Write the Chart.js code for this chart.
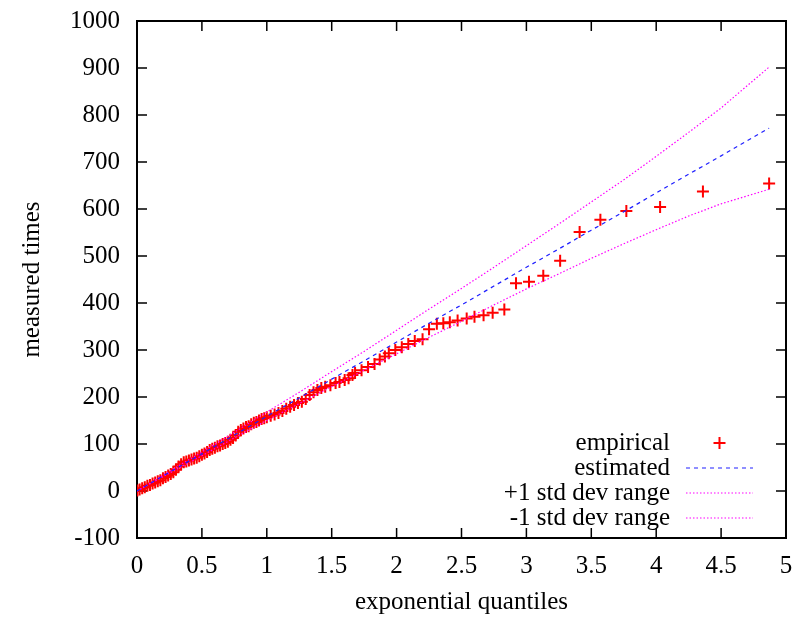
<!DOCTYPE html>
<html>
<head>
<meta charset="utf-8">
<script src="https://cdn.jsdelivr.net/npm/chart.js@4.4.0/dist/chart.umd.min.js"></script>
<style>
    html, body { margin: 0; padding: 0; background: #fff; }
    #wrap { width: 796px; height: 621px; }
</style>
</head>
<body>
<div id="wrap"><canvas id="qq_chart" width="796" height="621"></canvas></div>
<script>
// empirical points (exponential quantile, measured time)
const empiricalX = [
    0.003, 0.02, 0.04, 0.06, 0.08, 0.10, 0.12, 0.14, 0.16, 0.18,
    0.20, 0.22, 0.24, 0.26, 0.28, 0.30, 0.32, 0.34, 0.36, 0.38,
    0.40, 0.42, 0.44, 0.46, 0.48, 0.50, 0.52, 0.54, 0.56, 0.58,
    0.60, 0.62, 0.64, 0.66, 0.68, 0.70, 0.72, 0.74, 0.76, 0.78,
    0.80, 0.82, 0.84, 0.86, 0.88, 0.90, 0.92, 0.94, 0.96, 0.98,
    1.00, 1.03, 1.06, 1.09, 1.12, 1.15, 1.18, 1.21, 1.24, 1.27,
    1.30, 1.33, 1.36, 1.39, 1.42, 1.45, 1.49, 1.53, 1.56, 1.60,
    1.63, 1.66, 1.68, 1.73, 1.78, 1.83, 1.87, 1.91, 1.94, 1.99,
    2.04, 2.09, 2.14, 2.20, 2.25, 2.31, 2.36, 2.41, 2.47, 2.54,
    2.60, 2.67, 2.74, 2.83, 2.92, 3.02, 3.13, 3.26, 3.41, 3.57,
    3.77, 4.03, 4.36, 4.87
];
const empiricalY = [
    1, 3, 6, 8, 11, 13, 16, 18, 21, 23,
    27, 30, 33, 36, 40, 45, 52, 57, 61, 63,
    65, 67, 69, 71, 74, 77, 80, 83, 87, 90,
    92, 95, 97, 100, 102, 105, 109, 113, 118, 126,
    130, 133, 136, 138, 142, 145, 147, 150, 153, 155,
    157, 160, 163, 166, 170, 175, 179, 183, 187, 190,
    196, 204, 210, 215, 219, 222, 225, 230, 232, 236,
    240, 247, 251, 257, 264, 270, 280, 286, 293, 300,
    306, 313, 319, 323, 344, 356, 357, 359, 363, 367,
    371, 374, 379, 386, 442, 445, 458, 490, 551, 577,
    596, 604, 637, 654
];

// estimated line and the +-1 std dev range, sampled along the curves
const curveX = [0, 0.25, 0.5, 0.75, 1, 1.25, 1.5, 1.75, 2, 2.25, 2.5, 2.75, 3, 3.25, 3.5, 3.75, 4, 4.25, 4.5, 4.87];
const estimatedY = [0, 40, 79, 119, 159, 198, 238, 277, 317, 357, 396, 436, 476, 515, 555, 594, 634, 674, 713, 772];
const upperY = [0, 42, 83, 125, 168, 210, 254, 297, 342, 387, 431, 476, 522, 568, 615, 662, 712, 763, 815, 902];
const lowerY = [0, 38, 75, 113, 150, 186, 222, 257, 292, 327, 361, 396, 430, 462, 495, 526, 556, 585, 611, 642];

const seriesLabels = ["empirical", "estimated", "+1 std dev range", "-1 std dev range"];

toPoints = (xs, ys) => xs.map((x, i) => ({ x: x, y: ys[i] }));

const fontFamily = "'Liberation Serif', 'Times New Roman', serif";
Chart.defaults.font.family = fontFamily;
Chart.defaults.font.size = 25;
Chart.defaults.color = "#000";

// box with inward ticks on all four sides, like gnuplot
const framePlugin = {
    id: "frame",
    beforeDatasetsDraw(chart) {
        const { ctx, chartArea: a, scales } = chart;
        ctx.save();
        ctx.strokeStyle = "#000";
        ctx.lineWidth = 1.5;
        ctx.beginPath();
        scales.x.ticks.forEach(t => {
            const px = scales.x.getPixelForValue(t.value);
            ctx.moveTo(px, a.bottom);
            ctx.lineTo(px, a.bottom - 10);
            ctx.moveTo(px, a.top);
            ctx.lineTo(px, a.top + 10);
        });
        scales.y.ticks.forEach(t => {
            const py = scales.y.getPixelForValue(t.value);
            ctx.moveTo(a.left, py);
            ctx.lineTo(a.left + 10, py);
            ctx.moveTo(a.right, py);
            ctx.lineTo(a.right - 10, py);
        });
        ctx.stroke();
        ctx.lineWidth = 2;
        ctx.strokeRect(a.left, a.top, a.right - a.left, a.bottom - a.top);
        ctx.restore();
    }
};

// legend at the lower right, text right aligned, sample to the right
const keyPlugin = {
    id: "key",
    afterDatasetsDraw(chart) {
        const ctx = chart.ctx;
        const textRight = 670, firstRow = 443, rowStep = 25;
        const sampleLeft = 686, sampleRight = 753;
        ctx.save();
        ctx.font = "25px " + fontFamily;
        ctx.textAlign = "right";
        ctx.textBaseline = "middle";
        chart.data.datasets.forEach((ds, i) => {
            const y = firstRow + i * rowStep;
            ctx.fillStyle = "#000";
            ctx.fillText(ds.label, textRight, y);
            ctx.strokeStyle = ds.borderColor;
            ctx.lineWidth = ds.borderWidth;
            ctx.beginPath();
            if (ds.showLine) {
                ctx.setLineDash(ds.borderDash);
                ctx.moveTo(sampleLeft, y);
                ctx.lineTo(sampleRight, y);
            } else {
                const cx = (sampleLeft + sampleRight) / 2;
                ctx.setLineDash([]);
                ctx.moveTo(cx - 6, y);
                ctx.lineTo(cx + 6, y);
                ctx.moveTo(cx, y - 6);
                ctx.lineTo(cx, y + 6);
            }
            ctx.stroke();
        });
        ctx.restore();
    }
};

// fixed box sizes, and no extra label padding pushed into the layout
fixX = scale => {
    scale.height = 83;
    scale.paddingLeft = 0;
    scale.paddingRight = 0;
};
fixY = scale => {
    scale.width = 137;
    scale.paddingTop = 0;
    scale.paddingBottom = 0;
};

new Chart("qq_chart", {
    type: "scatter",
    data: {
        datasets: [{
            label: seriesLabels[0],
            data: toPoints(empiricalX, empiricalY),
            pointStyle: "cross",
            pointRadius: 6,
            pointBorderWidth: 2,
            borderColor: "#ff0000",
            borderWidth: 2,
            backgroundColor: "#ff0000",
            showLine: false,
            order: 1
        }, {
            label: seriesLabels[1],
            data: toPoints(curveX, estimatedY),
            showLine: true,
            pointRadius: 0,
            borderColor: "#2020ff",
            borderWidth: 1.2,
            borderDash: [4, 4],
            order: 0
        }, {
            label: seriesLabels[2],
            data: toPoints(curveX, upperY),
            showLine: true,
            pointRadius: 0,
            borderColor: "#ff00ff",
            borderWidth: 1.2,
            borderDash: [1.5, 2],
            order: 0
        }, {
            label: seriesLabels[3],
            data: toPoints(curveX, lowerY),
            showLine: true,
            pointRadius: 0,
            borderColor: "#ff00ff",
            borderWidth: 1.2,
            borderDash: [1.5, 2],
            order: 0
        }]
    },
    options: {
        responsive: false,
        animation: false,
        devicePixelRatio: 1,
        layout: { padding: { left: 0, right: 10, top: 21, bottom: 0 } },
        plugins: {
            legend: { display: false },
            tooltip: { enabled: false }
        },
        scales: {
            x: {
                type: "linear",
                min: 0,
                max: 5,
                grid: { display: false, drawTicks: false },
                border: { display: false },
                ticks: {
                    stepSize: 0.5,
                    padding: 13,
                    maxRotation: 0,
                    autoSkip: false,
                    callback: v => String(v)
                },
                title: {
                    display: true,
                    text: "exponential quantiles",
                    padding: { top: 0, bottom: 4 }
                },
                afterFit: fixX
            },
            y: {
                type: "linear",
                min: -100,
                max: 1000,
                grid: { display: false, drawTicks: false },
                border: { display: false },
                ticks: {
                    stepSize: 100,
                    padding: 17,
                    autoSkip: false,
                    callback: v => String(v)
                },
                title: {
                    display: true,
                    text: "measured times",
                    padding: { top: 17, bottom: 0 }
                },
                afterFit: fixY
            }
        }
    },
    plugins: [framePlugin, keyPlugin]
});
</script>
</body>
</html>
